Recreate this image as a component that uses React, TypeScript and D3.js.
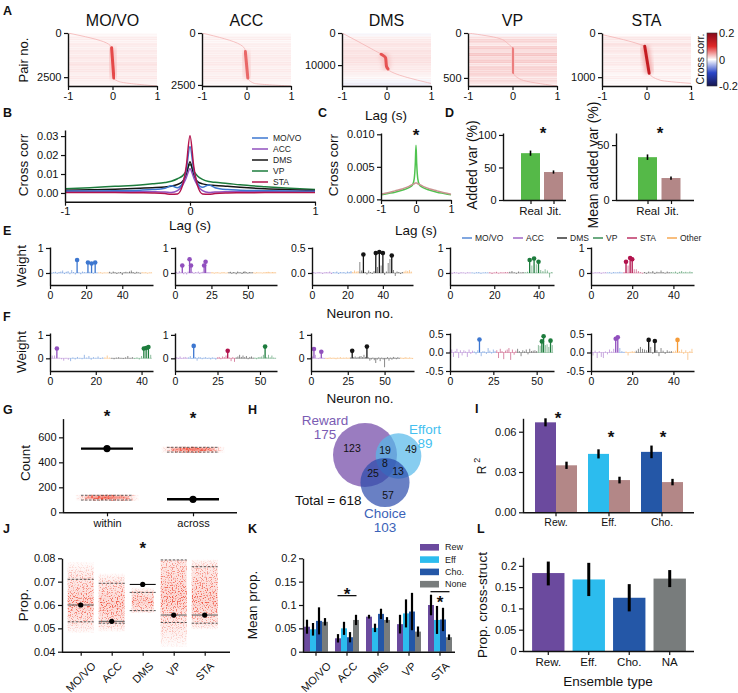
import React, { useEffect, useRef } from "react";
import * as d3 from "d3";

const FONT = "'Liberation Sans', Arial, Helvetica, sans-serif";
const INK = "#111";

// region palette shared by B, E and F
const regionNames = ["MO/VO", "ACC", "DMS", "VP", "STA", "Other"];
const regionColors = ["#3d77d0", "#9150be", "#151515", "#1d7c3d", "#b2134d", "#f59b38"];

// ---------- A: sorted cross-correlograms ----------
const heatRegions = ["MO/VO", "ACC", "DMS", "VP", "STA"];
const heatPairCount = [3000, 2550, 16500, 590, 1200];
const heatYTick = [2500, 2500, 10000, 500, 1000];
const heatTraceLag = [
  [-1, -0.13, -0.02, 0.03, 0.16, 1],
  [-1, -0.14, -0.03, 0.03, 0.17, 1],
  [-1, -0.29, -0.1, -0.02, 0.0, 0.05, 1],
  [-1, -0.3, -0.1, 0.0, 0.02, 0.2, 1],
  [-1, -0.13, -0.04, 0.06, 0.31, 1],
];
const heatTracePair = [
  [0, 570, 840, 2550, 2760, 3000],
  [0, 560, 815, 2170, 2420, 2550],
  [0, 5280, 6770, 7750, 10400, 11550, 15700],
  [0, 60, 120, 175, 440, 520, 590],
  [36, 265, 300, 910, 1070, 1140],
];
const heatStreakPair = [[840, 2550], [890, 2170], [6600, 11200], [175, 440], [300, 910]];
const heatStreakPeak = [0.085, 0.07, 0.08, 0.06, 0.13];
const heatBands = [
  [0.002, 0.006, 0.004, 0.008, 0.005, 0.009, 0.006, 0.01, 0.007, 0.011, 0.008, 0.009, 0.006, 0.008, 0.005, 0.003],
  [0.002, 0.005, 0.003, 0.006, 0.004, 0.007, 0.005, 0.008, 0.006, 0.008, 0.005, 0.007, 0.005, 0.006, 0.004, 0.002],
  [-0.003, 0.005, 0.008, 0.011, 0.008, 0.012, 0.01, 0.013, 0.011, 0.01, 0.008, 0.007, 0.005, 0.002, -0.004, -0.007],
  [-0.003, 0.01, 0.016, 0.008, 0.019, 0.012, 0.022, 0.014, 0.02, 0.01, 0.018, 0.014, 0.017, 0.008, 0.014, 0.005],
  [0.001, 0.009, 0.006, 0.012, 0.007, 0.01, 0.005, 0.009, 0.006, 0.008, 0.004, 0.006, 0.003, 0.005, 0.002, 0.001],
];

// ---------- B: mean cross-correlation per region ----------
const lagB = [-1, -0.8, -0.6, -0.4, -0.3, -0.2, -0.15, -0.1, -0.06, -0.03, 0, 0.03, 0.06, 0.1, 0.15, 0.2, 0.3, 0.4, 0.6, 0.8, 1];
const ccMOVO = [0.001, 0.0011, 0.0012, 0.0015, 0.0018, 0.0025, 0.0038, 0.0028, 0.005, 0.012, 0.0245, 0.012, 0.005, 0.003, 0.0042, 0.0028, 0.0018, 0.0015, 0.0012, 0.001, 0.0009];
const ccACC = [0.0008, 0.0008, 0.0008, 0.0008, 0.0007, 0.0005, 0.0002, 0.0012, 0.004, 0.008, 0.0128, 0.008, 0.004, 0.0012, 0.0002, 0.0005, 0.0007, 0.0008, 0.0008, 0.0008, 0.0008];
const ccDMS = [0.0014, 0.0017, 0.002, 0.0025, 0.0028, 0.0032, 0.0036, 0.0045, 0.006, 0.0095, 0.0165, 0.0095, 0.006, 0.0048, 0.0042, 0.004, 0.0035, 0.003, 0.0022, 0.0017, 0.0013];
const ccVP = [0.0022, 0.0028, 0.0035, 0.0042, 0.0048, 0.0055, 0.0062, 0.0075, 0.009, 0.0115, 0.015, 0.0115, 0.009, 0.0072, 0.006, 0.0056, 0.005, 0.0043, 0.0033, 0.0025, 0.0018];
const ccSTA = [0.0003, 0.0003, 0.0002, 0.0001, 0.0, -0.0003, -0.0007, -0.0005, 0.004, 0.014, 0.0302, 0.014, 0.004, -0.0005, -0.0007, -0.0003, 0.0, 0.0001, 0.0002, 0.0003, 0.0003];
const bSeries = [ccMOVO, ccACC, ccDMS, ccVP, ccSTA];

// ---------- C: real vs jittered ----------
const lagC = [-1, -0.8, -0.6, -0.4, -0.2, -0.1, -0.05, -0.02, 0, 0.02, 0.05, 0.1, 0.2, 0.4, 0.6, 0.8, 1];
const ccReal = [0.0007, 0.0009, 0.0011, 0.0014, 0.0018, 0.0022, 0.0032, 0.0055, 0.0083, 0.0055, 0.0032, 0.0022, 0.0018, 0.0014, 0.0011, 0.0009, 0.0007];
const ccJit = [0.0008, 0.001, 0.0013, 0.0016, 0.002, 0.0023, 0.0024, 0.0025, 0.0025, 0.0025, 0.0024, 0.0023, 0.002, 0.0016, 0.0013, 0.001, 0.0008];

// ---------- D ----------
const dLabels = ["Real", "Jit."];
const addedVar = [72, 43];
const addedVarErr = [4, 2.5];
const meanAddedVar = [39, 20];
const meanAddedVarErr = [2.5, 1.5];

// ---------- E / F: ensemble weights ----------
const e1Segs = [[0, 27], [5, 6], [2, 18], [5, 6]];
const e1W = [0.02, -0.02, 0.03, 0.05, -0.03, 0.04, 0.06, 0.1, -0.04, 0.05, 0.08, -0.05, 0.12, 0.04, -0.06, 0.52, 0.03, -0.05, 0.06, 0.04, 0.02, 0.42, 0.05, 0.38, -0.03, 0.42, 0.02,
  0.02, 0.03, -0.02, 0.02, 0.01, 0.02,
  0.05, -0.02, 0.06, 0.03, -0.04, 0.02, 0.04, -0.08, 0.03, 0.05, 0.02, 0.06, 0.1, 0.04, -0.03, 0.05, 0.02, -0.02,
  0.03, 0.02, 0.03, -0.02, 0.02, 0.03];
const e1Marked = [15, 21, 23, 25];

const e2Segs = [[1, 25], [5, 12], [2, 17], [5, 16]];
const e2W = [0.03, 0.05, -0.03, 0.08, 0.02, 0.3, -0.05, 0.04, -0.06, 0.06, 0.55, 0.3, 0.05, -0.03, 0.04, 0.02, 0.06, -0.04, 0.03, 0.05, 0.3, 0.45, 0.04, 0.02, 0.03,
  0.02, 0.03, -0.02, 0.02, 0.03, 0.01, -0.02, 0.02, 0.03, 0.02, -0.01, 0.02,
  0.03, 0.05, -0.03, 0.04, 0.02, -0.05, 0.06, 0.03, 0.02, -0.04, 0.05, 0.07, 0.03, -0.02, 0.04, 0.02, 0.03,
  0.02, -0.02, 0.03, 0.02, 0.01, 0.02, -0.01, 0.03, 0.02, 0.04, 0.05, 0.03, 0.02, 0.04, 0.03, 0.02];
const e2Marked = [5, 10, 11, 20, 21];

const e3Segs = [[1, 12], [0, 11], [5, 4], [2, 25], [5, 5]];
const e3W = [0.01, 0.02, -0.01, 0.01, 0.02, 0.01, -0.02, 0.01, 0.02, 0.01, 0.03, -0.02,
  0.02, 0.01, 0.03, -0.02, 0.02, 0.01, 0.02, -0.01, 0.03, 0.02, 0.04,
  0.02, 0.05, 0.03, 0.04,
  0.22, 0.05, 0.37, 0.02, -0.03, 0.05, 0.02, -0.02, 0.04, 0.4, 0.12, 0.42, 0.15, 0.4, -0.04, 0.03, 0.2, 0.28, 0.35, 0.06, -0.06, 0.03, 0.02, -0.02, 0.02,
  0.03, 0.05, 0.04, 0.06, 0.03];
const e3Marked = [29, 36, 38, 40, 45];

const e4Segs = [[1, 10], [0, 8], [4, 9], [2, 7], [3, 13]];
const e4W = [0.06, -0.03, 0.04, 0.02, -0.04, 0.03, 0.02, -0.02, 0.03, 0.02,
  0.02, -0.02, 0.03, 0.04, -0.03, 0.02, 0.03, 0.02,
  0.03, -0.04, 0.02, 0.05, -0.02, 0.03, 0.02, 0.04, 0.03,
  0.05, 0.08, 0.03, -0.03, 0.06, 0.02, 0.04,
  0.03, 0.05, 0.52, 0.3, 0.58, 0.35, 0.45, 0.12, 0.08, 0.15, 0.1, -0.18, 0.04];
const e4Marked = [36, 38, 40];

const e5Segs = [[1, 8], [0, 8], [4, 10], [2, 13], [3, 11]];
const e5W = [0.08, -0.02, 0.03, 0.02, 0.04, -0.03, 0.02, 0.03,
  0.02, 0.03, -0.02, 0.04, 0.02, 0.03, 0.05, 0.02,
  0.03, 0.45, 0.3, 0.6, 0.55, 0.15, 0.15, 0.08, 0.03, -0.02,
  0.04, -0.03, 0.06, 0.02, 0.08, -0.04, 0.05, 0.03, 0.1, 0.04, -0.02, 0.06, 0.03,
  0.04, 0.02, 0.06, -0.03, 0.05, 0.08, 0.03, 0.05, 0.02, 0.06, 0.04];
const e5Marked = [17, 19, 20];

const f1Segs = [[1, 9], [0, 15], [5, 3], [2, 10], [3, 8]];
const f1W = [0.02, 0.12, 0.12, 0.42, 0.03, -0.04, -0.1, 0.02, -0.06,
  -0.12, 0.04, -0.05, 0.06, 0.02, -0.04, 0.15, 0.03, 0.1, -0.06, 0.05, 0.02, 0.08, -0.03, 0.04,
  0.04, 0.12, 0.03,
  0.02, -0.04, 0.03, 0.05, 0.02, -0.03, 0.04, 0.1, 0.02, 0.05,
  -0.03, 0.04, -0.05, 0.1, 0.42, 0.44, 0.48, 0.15];
const f1Marked = [3, 41, 42, 43];

const f2Segs = [[1, 8], [0, 17], [4, 11], [2, 11], [3, 13]];
const f2W = [0.02, 0.05, -0.03, 0.08, -0.02, 0.04, 0.06, 0.03,
  0.04, 0.1, -0.03, 0.53, 0.05, -0.1, 0.06, 0.04, -0.04, 0.03, 0.05, -0.02, 0.03, -0.05, 0.04, 0.02, -0.06,
  0.04, 0.06, -0.04, 0.08, 0.05, 0.12, 0.32, 0.03, -0.12, 0.05, -0.15,
  0.04, 0.08, 0.15, 0.06, 0.12, 0.05, 0.1, -0.04, 0.06, 0.08, 0.03,
  0.03, -0.04, 0.05, 0.06, 0.08, 0.15, 0.5, 0.05, 0.15, 0.04, 0.12, 0.03, 0.02];
const f2Marked = [11, 31, 53];

const f3Segs = [[1, 10], [5, 17], [2, 34], [5, 9]];
const f3W = [0.05, 0.08, 0.4, 0.15, 0.02, -0.03, 0.04, 0.28, 0.03, -0.02,
  0.02, -0.03, 0.02, 0.04, -0.02, 0.03, 0.02, -0.04, 0.03, 0.02, 0.05, -0.02, 0.03, 0.02, 0.04, 0.02, 0.03,
  0.04, 0.32, 0.05, 0.08, 0.03, 0.06, 0.08, 0.1, 0.05, 0.15, 0.06, 0.5, 0.04, -0.1, -0.05, 0.03, -0.08, -0.2, -0.06, 0.04, -0.12, 0.03, -0.05, -0.38, -0.04, 0.05, -0.1, 0.03, -0.06, 0.06, 0.03, -0.04, 0.05, 0.02,
  0.04, 0.02, -0.03, 0.05, 0.03, -0.02, 0.04, 0.02, -0.03];
const f3Marked = [2, 7, 28, 38];

const f4Segs = [[1, 14], [0, 13], [4, 12], [2, 12], [3, 9]];
const f4W = [0.05, 0.08, -0.12, 0.04, 0.1, -0.15, 0.06, -0.08, 0.06, 0.03, -0.12, 0.08, -0.04, 0.05,
  0.03, -0.05, 0.06, 0.35, -0.1, 0.04, 0.03, -0.04, 0.12, 0.05, -0.03, 0.08, 0.04,
  0.06, -0.15, 0.1, 0.04, -0.18, 0.05, 0.08, 0.12, -0.2, 0.08, -0.06, 0.05,
  0.1, 0.04, -0.1, 0.06, 0.03, 0.08, -0.05, 0.1, 0.04, 0.05, 0.06, 0.04,
  0.2, 0.18, 0.3, 0.44, 0.2, 0.22, 0.15, 0.32, 0.2];
const f4Marked = [17, 53, 54, 58];

const f5Segs = [[1, 14], [0, 3], [5, 5], [2, 18], [5, 10]];
const f5W = [0.06, -0.08, 0.05, -0.15, 0.04, -0.12, -0.15, 0.03, -0.05, 0.08, 0.03, 0.1, 0.37, 0.41,
  0.12, 0.04, 0.02,
  0.03, -0.08, 0.02, 0.04, 0.03,
  0.05, 0.1, 0.15, 0.1, 0.08, 0.06, 0.34, 0.15, -0.04, 0.31, 0.06, -0.1, 0.12, 0.05, -0.04, 0.06, 0.03, 0.04,
  0.03, 0.05, 0.34, 0.04, 0.08, -0.04, 0.06, -0.2, 0.04, 0.1];
const f5Marked = [12, 13, 28, 31, 42];

// ---------- G ----------
const gCats = ["within", "across"];
const gObserved = [510, 104];
const gShuffleMean = [118, 503];
const gShuffleLo = [98, 482];
const gShuffleHi = [136, 520];

// ---------- H ----------
const vennSets = ["Reward", "Effort", "Choice"];
const vennSizes = [175, 89, 103];
const vennCounts = [123, 49, 57, 19, 25, 13, 8]; // R, E, C, R&E, R&C, E&C, all
const vennTotal = 618;

// ---------- I ----------
const iGroups = ["Rew.", "Eff.", "Cho."];
const r2Real = [0.067, 0.0435, 0.045];
const r2RealErr = [0.003, 0.0034, 0.0047];
const r2Jit = [0.035, 0.024, 0.0225];
const r2JitErr = [0.0027, 0.0025, 0.0024];

// ---------- J ----------
const jRegions = ["MO/VO", "ACC", "DMS", "VP", "STA"];
const jObserved = [0.06, 0.053, 0.0688, 0.0557, 0.0557];
const jShuffleLo = [0.0528, 0.0522, 0.0576, 0.0525, 0.0522];
const jShuffleHi = [0.071, 0.0693, 0.0654, 0.0793, 0.0764];
const jShuffleMed = [0.0605, 0.0605, 0.0615, 0.0635, 0.0615];
const jShuffleMin = [0.048, 0.0485, 0.0565, 0.042, 0.0495];
const jShuffleMax = [0.0785, 0.0735, 0.0675, 0.0795, 0.0795];

// ---------- K ----------
const kTypes = ["Rew", "Eff", "Cho.", "None"];
const kRew = [0.0535, 0.0287, 0.075, 0.059, 0.1];
const kEff = [0.048, 0.05, 0.051, 0.082, 0.068];
const kCho = [0.066, 0.031, 0.081, 0.086, 0.069];
const kNone = [0.064, 0.068, 0.068, 0.043, 0.031];
const kRewErr = [0.015, 0.009, 0.004, 0.02, 0.022];
const kEffErr = [0.0135, 0.014, 0.009, 0.03, 0.03];
const kChoErr = [0.029, 0.011, 0.011, 0.04, 0.025];
const kNoneErr = [0.008, 0.011, 0.006, 0.011, 0.006];

// ---------- L ----------
const lTypes = ["Rew.", "Eff.", "Cho.", "NA"];
const crossStruct = [0.183, 0.168, 0.125, 0.17];
const crossStructLo = [0.154, 0.129, 0.093, 0.15];
const crossStructHi = [0.21, 0.207, 0.157, 0.19];

// palette for ensemble types
const REW = "#6b4a9e", EFF = "#2cbcee", CHO = "#2457a7", NONE = "#787c7c";
const JIT = "#b38787", REAL = "#55b948", CLOUD = "#ef4a36";

const fmt = (spec: string) => (d: any) => d3.format(spec)(d).replace("\u2212", "-");
const plain = (d: any) => String(d);
// blue-white-red diverging map for cross-correlation
const cmap = d3.scaleLinear<string>()
  .domain([-0.2, -0.1, 0, 0.1, 0.2])
  .range(["#16164f", "#2a46c8", "#ffffff", "#e02828", "#870818"])
  .clamp(true);

function text(sel: any, x: number, y: number, s: string, o: any = {}) {
  const t = sel.append("text").attr("x", x).attr("y", y).text(s)
    .attr("font-family", FONT).attr("font-size", o.size ?? 11)
    .attr("fill", o.fill ?? INK).attr("text-anchor", o.anchor ?? "start");
  if (o.weight) t.attr("font-weight", o.weight);
  if (o.baseline) t.attr("dominant-baseline", o.baseline);
  if (o.rotate) t.attr("transform", `rotate(${o.rotate},${x},${y})`);
  return t;
}
const vlabel = (sel: any, x: number, y: number, s: string, size = 13.5) =>
  text(sel, x, y, s, { size, anchor: "middle", baseline: "central", rotate: -90 });
const star = (sel: any, x: number, yc: number) =>
  text(sel, x, yc + 9, "*", { size: 17, anchor: "middle", weight: "bold" });

function styleAxis(a: any, size: number) {
  a.attr("font-family", FONT).attr("font-size", size);
  a.select(".domain").attr("stroke", INK).attr("stroke-width", 1.4);
  a.selectAll(".tick line").attr("stroke", INK).attr("stroke-width", 1.2);
  a.selectAll(".tick text").attr("fill", INK);
}
function yAxis(sel: any, scale: any, x0: number, ticks: any[], format: any, size = 11) {
  const a = sel.append("g").attr("transform", `translate(${x0},0)`)
    .call(d3.axisLeft(scale).tickValues(ticks).tickFormat(format).tickSizeOuter(0).tickSizeInner(4).tickPadding(2.5));
  styleAxis(a, size);
  return a;
}
function xAxis(sel: any, scale: any, y0: number, ticks: any[], format: any, size = 11, extent?: number[], pad = 2.5) {
  const a = sel.append("g").attr("transform", `translate(0,${y0})`)
    .call(d3.axisBottom(scale).tickValues(ticks).tickFormat(format).tickSizeOuter(0).tickSizeInner(4).tickPadding(pad));
  styleAxis(a, size);
  if (extent) a.select(".domain").attr("d", `M${extent[0]},0.5H${extent[1]}`);
  return a;
}
function errBar(sel: any, x: number, y1: number, y2: number, w = 1.6) {
  sel.append("line").attr("x1", x).attr("x2", x).attr("y1", y1).attr("y2", y2)
    .attr("stroke", "#000").attr("stroke-width", w);
}
function slantLabels(sel: any, xs: number[], labels: string[], yTop: number, size = 11) {
  labels.forEach((s, k) => {
    const t = text(sel, 0, 0, s, { size, anchor: "middle", baseline: "central" });
    const w = (t.node() as SVGTextElement).getComputedTextLength();
    const half = (w + size * 0.75) / (2 * Math.SQRT2);
    t.attr("transform", `translate(${xs[k]},${yTop + half}) rotate(-45)`);
  });
}

// speckled scatter cloud: gradient-filled rect broken into dots by noise
function cloud(sel: any, x: number, y: number, w: number, h: number, fill: string, haze: number, filter: string, dots = 1) {
  sel.append("rect").attr("x", x).attr("y", y).attr("width", w).attr("height", h)
    .attr("fill", fill).attr("opacity", haze);
  sel.append("rect").attr("x", x).attr("y", y).attr("width", w).attr("height", h)
    .attr("fill", fill).attr("opacity", dots).attr("filter", `url(#${filter})`);
}

// ---------- panel drawing ----------
const heatLeft = [68, 202, 342, 468, 602];
const HEAT_W = 89, HEAT_TOP = 33, HEAT_BOT = 86;

function drawA(svg: any, defs: any) {
  heatRegions.forEach((name, i) => {
    const x0 = heatLeft[i], x1 = x0 + HEAT_W;
    const x = d3.scaleLinear([-1, 1], [x0, x1]);
    const y = d3.scaleLinear([0, heatPairCount[i]], [HEAT_TOP, HEAT_BOT]);
    defs.append("clipPath").attr("id", `clipA${i}`).append("rect")
      .attr("x", x0).attr("y", HEAT_TOP).attr("width", HEAT_W).attr("height", HEAT_BOT - HEAT_TOP);
    const g = svg.append("g").attr("clip-path", `url(#clipA${i})`);
    const bands = heatBands[i];
    const step = heatPairCount[i] / bands.length;
    g.selectAll("rect.band").data(bands).join("rect").attr("class", "band")
      .attr("x", x0).attr("width", HEAT_W)
      .attr("y", (_: any, k: number) => y(k * step)).attr("height", y(step) - y(0) + 0.4)
      .attr("fill", (d: number) => cmap(d));
    g.append("rect").attr("x", x0).attr("y", HEAT_TOP).attr("width", HEAT_W)
      .attr("height", HEAT_BOT - HEAT_TOP).attr("fill", "url(#rowLines)")
      .attr("opacity", name === "VP" ? 1 : 0.45);
    const pts = heatTraceLag[i].map((l, k) => [l, heatTracePair[i][k]] as [number, number]);
    const line = d3.line<[number, number]>().x(d => x(d[0])).y(d => y(d[1])).curve(d3.curveMonotoneY);
    g.append("path").attr("d", line(pts)).attr("fill", "none")
      .attr("stroke", cmap(0.035)).attr("stroke-width", 0.8);
    const [s0, s1] = heatStreakPair[i];
    const lagAt = d3.scaleLinear(heatTracePair[i], heatTraceLag[i]);
    const streak: [number, number][] = [[lagAt(s0), s0], ...pts.filter(p => p[1] > s0 && p[1] < s1), [lagAt(s1), s1]];
    g.append("path").attr("d", line(streak)).attr("fill", "none")
      .attr("stroke", cmap(heatStreakPeak[i] * 0.4)).attr("stroke-width", 8)
      .attr("filter", "url(#halo)").attr("opacity", 0.7);
    g.append("path").attr("d", line(streak)).attr("fill", "none")
      .attr("stroke", cmap(heatStreakPeak[i])).attr("stroke-width", 3)
      .attr("stroke-linecap", "round").attr("filter", "url(#soft)");
    yAxis(svg, y, x0, [0, heatYTick[i]], plain, 11);
    xAxis(svg, x, HEAT_BOT, [-1, 0, 1], plain, 11);
    text(svg, (x0 + x1) / 2, 26, name, { size: 16, anchor: "middle" });
  });
  vlabel(svg, 23, 60, "Pair no.", 13);
  text(svg, 386, 120, "Lag (s)", { size: 13.5, anchor: "middle" });

  // colour bar
  const cb = defs.append("linearGradient").attr("id", "cbar")
    .attr("x1", 0).attr("y1", 0).attr("x2", 0).attr("y2", 1);
  d3.range(0, 1.001, 0.125).forEach(t =>
    cb.append("stop").attr("offset", t).attr("stop-color", cmap(0.2 - 0.4 * t)));
  svg.append("rect").attr("x", 707).attr("y", HEAT_TOP).attr("width", 10).attr("height", HEAT_BOT - HEAT_TOP)
    .attr("fill", "url(#cbar)").attr("stroke", "#333").attr("stroke-width", 0.6);
  const cy = d3.scaleLinear([-0.2, 0.2], [HEAT_BOT, HEAT_TOP]);
  [0.2, 0, -0.2].forEach(v => text(svg, 719, cy(v), plain(v), { size: 11, baseline: "central" }));
  vlabel(svg, 700, 59, "Cross corr.", 10.5);
}

function drawB(svg: any) {
  const x = d3.scaleLinear([-1, 1], [65, 315]);
  const y = d3.scaleLinear([-0.0046, 0.0332], [201.7, 130]);
  const line = d3.line<number>().x((_, k) => x(lagB[k])).y(d => y(d)).curve(d3.curveMonotoneX);
  [3, 2, 1, 0, 4].forEach(k => {
    svg.append("path").attr("d", line(bSeries[k])).attr("fill", "none")
      .attr("stroke", regionColors[k]).attr("stroke-width", 1.5);
  });
  yAxis(svg, y, 65, [0, 0.01, 0.02, 0.03], fmt(".2f"));
  xAxis(svg, x, 201.7, [-1, 0, 1], plain, 11, undefined, 1.5);
  vlabel(svg, 23, 165, "Cross corr");
  text(svg, 190, 230, "Lag (s)", { size: 13.5, anchor: "middle" });
  regionNames.slice(0, 5).forEach((n, k) => {
    const yy = 138 + k * 11;
    svg.append("line").attr("x1", 252).attr("x2", 268).attr("y1", yy).attr("y2", yy)
      .attr("stroke", regionColors[k]).attr("stroke-width", 1.5);
    text(svg, 273, yy, n, { size: 8.5, baseline: "central", fill: "#222" });
  });
}

function drawC(svg: any) {
  const x = d3.scaleLinear([-1, 1], [381, 451]);
  const y = d3.scaleLinear([-0.0001, 0.0102], [200, 133]);
  const line = d3.line<number>().x((_, k) => x(lagC[k])).y(d => y(d)).curve(d3.curveMonotoneX);
  svg.append("path").attr("d", line(ccReal)).attr("fill", "none").attr("stroke", "#4fc34f").attr("stroke-width", 1.5);
  svg.append("path").attr("d", line(ccJit)).attr("fill", "none").attr("stroke", "#c99391").attr("stroke-width", 1.5);
  yAxis(svg, y, 381, [0, 0.005, 0.01], fmt(".3f"));
  xAxis(svg, x, 200, [-1, 0, 1], plain, 11, undefined, 1.5);
  vlabel(svg, 333, 165, "Cross corr");
  text(svg, 416, 235, "Lag (s)", { size: 13.5, anchor: "middle" });
  star(svg, 416, 132);
}

function drawD(svg: any) {
  const panels = [
    { xs: [530.5, 553.5], ax: 503, end: 566, dom: 103, vals: addedVar, errs: addedVarErr, ticks: [0, 50, 100], title: "Added var (%)", tx: 472, star: 543 },
    { xs: [647.5, 671], ax: 616, end: 694, dom: 61, vals: meanAddedVar, errs: meanAddedVarErr, ticks: [0, 50], title: "Mean added var (%)", tx: 593, star: 660 },
  ];
  panels.forEach(p => {
    const x = d3.scalePoint(dLabels, p.xs);
    const y = d3.scaleLinear([0, p.dom], [200, 133]);
    dLabels.forEach((l, k) => {
      const cx = x(l) as number;
      svg.append("rect").attr("x", cx - 9.5).attr("width", 19).attr("y", y(p.vals[k]))
        .attr("height", y(0) - y(p.vals[k])).attr("fill", k === 0 ? REAL : JIT);
      errBar(svg, cx, y(p.vals[k] - p.errs[k]), y(p.vals[k] + p.errs[k]), 1.6);
    });
    yAxis(svg, y, p.ax, p.ticks, plain);
    xAxis(svg, x, 200, dLabels, plain, 11.5, [p.ax, p.end]);
    vlabel(svg, p.tx, 165, p.title, 14);
    star(svg, p.star, 130);
  });
}

const eLeft = [50, 175, 312, 450, 591], eRight = [153, 277, 413, 554, 694];
const fLeft = [50, 175, 311, 450, 591], fRight = [153, 277, 414, 554, 694];

function stemPanel(svg: any, w: number[], segs: number[][], marked: number[], x0: number, x1: number,
  xMax: number, xTicks: number[], yTop: number, yBot: number, yDom: number[], yTicks: number[], yFmt: any) {
  const x = d3.scaleLinear([0, xMax], [x0, x1]);
  const y = d3.scaleLinear(yDom, [yBot, yTop]);
  const reg = segs.flatMap(([r, c]) => d3.range(c).map(() => r));
  const gb = svg.append("g");
  gb.selectAll("line").data(w).join("line")
    .attr("x1", (_: any, i: number) => x(i - 0.5)).attr("x2", (_: any, i: number) => x(i + 0.5))
    .attr("y1", y(0)).attr("y2", y(0))
    .attr("stroke", (_: any, i: number) => regionColors[reg[i]]).attr("stroke-width", 0.8).attr("opacity", 0.4);
  const gs = svg.append("g");
  gs.selectAll("line").data(w).join("line")
    .attr("x1", (_: any, i: number) => x(i)).attr("x2", (_: any, i: number) => x(i))
    .attr("y1", y(0)).attr("y2", (d: number) => y(d))
    .attr("stroke", (_: any, i: number) => regionColors[reg[i]])
    .attr("stroke-width", (_: any, i: number) => (marked.includes(i) ? 1.3 : 1))
    .attr("opacity", (_: any, i: number) => (marked.includes(i) ? 1 : 0.5));
  svg.append("g").selectAll("circle").data(marked).join("circle")
    .attr("cx", (i: number) => x(i)).attr("cy", (i: number) => y(w[i])).attr("r", 2.3)
    .attr("fill", (i: number) => regionColors[reg[i]]);
  yAxis(svg, y, x0, yTicks, yFmt, 10.5);
  xAxis(svg, x, yBot, xTicks, plain, 10.5);
}

function drawEF(svg: any) {
  const eW = [e1W, e2W, e3W, e4W, e5W], eS = [e1Segs, e2Segs, e3Segs, e4Segs, e5Segs];
  const eM = [e1Marked, e2Marked, e3Marked, e4Marked, e5Marked];
  const eMax = [57, 70, 57, 47, 50];
  const eTicks = [[0, 20, 40], [0, 25, 50], [0, 20, 40], [0, 20, 40], [0, 20, 40]];
  eW.forEach((w, k) => {
    const half = k === 2;
    stemPanel(svg, w, eS[k], eM[k], eLeft[k], eRight[k], eMax[k], eTicks[k], 247, 285,
      half ? [-0.24, 0.52] : [-0.48, 1.04], half ? [0, 0.5] : [0, 1], half ? fmt(".1f") : plain);
  });
  const fW = [f1W, f2W, f3W, f4W, f5W], fS = [f1Segs, f2Segs, f3Segs, f4Segs, f5Segs];
  const fM = [f1Marked, f2Marked, f3Marked, f4Marked, f5Marked];
  const fMax = [45, 60, 70, 60, 50];
  const fTicks = [[0, 20, 40], [0, 25, 50], [0, 25, 50], [0, 25, 50], [0, 20, 40]];
  fW.forEach((w, k) => {
    const half = k >= 3;
    stemPanel(svg, w, fS[k], fM[k], fLeft[k], fRight[k], fMax[k], fTicks[k], 333, 371,
      half ? [-0.5, 0.527] : [-0.54, 1.08], half ? [-0.5, 0, 0.5] : [0, 1], half ? fmt(".1f") : plain);
  });
  vlabel(svg, 21, 266, "Weight");
  vlabel(svg, 21, 352, "Weight");
  text(svg, 360, 318, "Neuron no.", { size: 13.5, anchor: "middle" });
  text(svg, 360, 403, "Neuron no.", { size: 13.5, anchor: "middle" });
  // legend
  const legX = [462, 513, 557, 593, 627, 667];
  regionNames.forEach((n, k) => {
    svg.append("line").attr("x1", legX[k]).attr("x2", legX[k] + 10).attr("y1", 238).attr("y2", 238)
      .attr("stroke", regionColors[k]).attr("stroke-width", 1.3);
    text(svg, legX[k] + 13, 238, n, { size: 8.5, baseline: "central", fill: "#222" });
  });
}

function drawG(svg: any, defs: any) {
  const x = d3.scalePoint(gCats, [107, 193]);
  const y = d3.scaleLinear([0, 750], [512.3, 418.6]);
  const starY = [413, 415];
  gCats.forEach((c, k) => {
    const cx = x(c) as number;
    const id = `cloudG${k}`;
    const lg = defs.append("linearGradient").attr("id", id).attr("gradientUnits", "userSpaceOnUse")
      .attr("x1", cx - 32).attr("x2", cx + 32).attr("y1", 0).attr("y2", 0);
    [[0, 0], [0.2, 0.55], [0.5, 1], [0.8, 0.55], [1, 0]].forEach(([o, a]) =>
      lg.append("stop").attr("offset", o).attr("stop-color", CLOUD).attr("stop-opacity", a));
    const top = y(gShuffleHi[k] + 4), bot = y(gShuffleLo[k] - 4);
    cloud(svg, cx - 32, top, 64, bot - top, `url(#${id})`, 0.3, "speck");
    const ct = y(gShuffleMean[k] + 10), cb = y(gShuffleMean[k] - 10);
    svg.append("rect").attr("x", cx - 22).attr("width", 44).attr("y", ct).attr("height", cb - ct)
      .attr("fill", `url(#${id})`).attr("opacity", 0.6);
    [gShuffleLo[k], gShuffleHi[k]].forEach(v =>
      svg.append("line").attr("x1", cx - 26).attr("x2", cx + 26).attr("y1", y(v)).attr("y2", y(v))
        .attr("stroke", "#555").attr("stroke-width", 0.9).attr("stroke-dasharray", "2.5,1.5"));
    svg.append("line").attr("x1", cx - 26).attr("x2", cx + 26).attr("y1", y(gObserved[k])).attr("y2", y(gObserved[k]))
      .attr("stroke", "#000").attr("stroke-width", 2.4);
    svg.append("circle").attr("cx", cx).attr("cy", y(gObserved[k])).attr("r", 3.6).attr("fill", "#000");
    star(svg, cx, starY[k]);
  });
  yAxis(svg, y, 63, [0, 200, 400, 600], plain);
  xAxis(svg, x, 512.3, gCats, plain, 11, [63, 237]);
  vlabel(svg, 25, 463, "Count");
}

function drawH(svg: any) {
  const r = d3.scaleSqrt([0, 175], [0, 32]);
  const centers = [[365, 455], [398.5, 456], [385, 482.5]];
  const fills = ["#6f44a5", "#54b8ea", "#2a4aab"];
  const inks = ["#7a5cb3", "#45bff0", "#3a62b8"];
  vennSets.forEach((s, k) => {
    svg.append("circle").attr("cx", centers[k][0]).attr("cy", centers[k][1]).attr("r", r(vennSizes[k]))
      .attr("fill", fills[k]).attr("opacity", 0.7);
  });
  const countPos = [[352, 448], [411, 449], [388, 495], [385, 450], [373, 473], [398, 471], [385, 463]];
  vennCounts.forEach((n, k) => text(svg, countPos[k][0], countPos[k][1], String(n),
    { size: 10.5, anchor: "middle", baseline: "central" }));
  const namePos = [[325, 425], [425, 434], [385, 518]];
  vennSets.forEach((s, k) => {
    text(svg, namePos[k][0], namePos[k][1], s, { size: 13.5, anchor: "middle", fill: inks[k] });
    text(svg, namePos[k][0], namePos[k][1] + 14, String(vennSizes[k]), { size: 13.5, anchor: "middle", fill: inks[k] });
  });
  text(svg, 295, 505, `Total = ${vennTotal}`, { size: 13.5 });
}

function drawI(svg: any) {
  const x = d3.scaleBand(iGroups, [529.5, 688.5]);
  const y = d3.scaleLinear([0, 0.07], [512.3, 418.3]);
  const colors = [REW, EFF, CHO];
  iGroups.forEach((gname, k) => {
    const cx = (x(gname) as number) + x.bandwidth() / 2;
    svg.append("rect").attr("x", cx - 21).attr("width", 21).attr("y", y(r2Real[k]))
      .attr("height", y(0) - y(r2Real[k])).attr("fill", colors[k]);
    svg.append("rect").attr("x", cx).attr("width", 21).attr("y", y(r2Jit[k]))
      .attr("height", y(0) - y(r2Jit[k])).attr("fill", JIT);
    errBar(svg, cx - 10.5, y(r2Real[k] - r2RealErr[k]), y(r2Real[k] + r2RealErr[k]), 2.4);
    errBar(svg, cx + 10.5, y(r2Jit[k] - r2JitErr[k]), y(r2Jit[k] + r2JitErr[k]), 2.4);
  });
  yAxis(svg, y, 523, [0, 0.03, 0.06], fmt(".2f"));
  xAxis(svg, x, 512.3, iGroups, plain, 10.5, [523, 694]);
  star(svg, 558, 415);
  star(svg, 611, 434);
  star(svg, 663, 434);
  const t = text(svg, 482, 466, "R", { size: 12, anchor: "middle", baseline: "central", rotate: -90 });
  t.append("tspan").attr("dx", 3).attr("dy", -5).attr("font-size", 9).text("2");
}

function drawJ(svg: any, defs: any) {
  const x = d3.scalePoint(jRegions, [80.7, 204.7]);
  const y = d3.scaleLinear([0.04, 0.08], [651.7, 558.3]);
  jRegions.forEach((reg, k) => {
    const cx = x(reg) as number;
    const id = `cloudJ${k}`;
    const yT = y(jShuffleMax[k]), yB = y(jShuffleMin[k]);
    const off = (v: number) => (y(v) - yT) / (yB - yT);
    const lg = defs.append("linearGradient").attr("id", id).attr("x1", 0).attr("x2", 0).attr("y1", 0).attr("y2", 1);
    [[0, 0.05], [off(jShuffleHi[k]), 0.5], [off(jShuffleMed[k]), 1], [off(jShuffleLo[k]), 0.5], [1, 0.05]].forEach(([o, a]) =>
      lg.append("stop").attr("offset", o).attr("stop-color", CLOUD).attr("stop-opacity", a));
    const hw = reg === "DMS" ? 11 : 13;
    cloud(svg, cx - hw, yT, hw * 2, yB - yT, `url(#${id})`, 0.22, "speckFine", 0.85);
    [jShuffleLo[k], jShuffleHi[k]].forEach(v =>
      svg.append("line").attr("x1", cx - 13).attr("x2", cx + 13).attr("y1", y(v)).attr("y2", y(v))
        .attr("stroke", "#444").attr("stroke-width", 0.9).attr("stroke-dasharray", "2.5,1.5"));
    svg.append("line").attr("x1", cx - 13).attr("x2", cx + 13).attr("y1", y(jObserved[k])).attr("y2", y(jObserved[k]))
      .attr("stroke", reg === "DMS" ? "#111" : "#666").attr("stroke-width", 1.1);
    svg.append("circle").attr("cx", cx).attr("cy", y(jObserved[k])).attr("r", 2.6).attr("fill", "#000");
  });
  yAxis(svg, y, 62, [0.04, 0.05, 0.06, 0.07, 0.08], fmt(".2f"));
  xAxis(svg, x, 651.7, jRegions, () => "", 11, [62, 230]);
  slantLabels(svg, jRegions.map(r => x(r) as number), jRegions, 661);
  vlabel(svg, 23, 605, "Prop.");
  star(svg, x("DMS") as number, 545);
}

function drawK(svg: any) {
  const x = d3.scaleBand(jRegions, [300.5, 455.5]);
  const sub = d3.scaleBand(kTypes, [-12, 12]);
  const y = d3.scaleLinear([0, 0.2], [651.7, 558.3]);
  const vals = [kRew, kEff, kCho, kNone], errs = [kRewErr, kEffErr, kChoErr, kNoneErr];
  const colors = [REW, EFF, CHO, NONE];
  jRegions.forEach((reg, i) => {
    const cx = (x(reg) as number) + x.bandwidth() / 2;
    kTypes.forEach((t, j) => {
      const bx = cx + (sub(t) as number);
      const v = vals[j][i];
      svg.append("rect").attr("x", bx).attr("width", sub.bandwidth()).attr("y", y(v))
        .attr("height", y(0) - y(v)).attr("fill", colors[j]);
      errBar(svg, bx + sub.bandwidth() / 2, y(v - errs[j][i]), y(v + errs[j][i]), 2.2);
    });
  });
  yAxis(svg, y, 303, [0, 0.05, 0.1, 0.15, 0.2], plain);
  xAxis(svg, x, 651.7, jRegions, () => "", 11, [303, 455]);
  slantLabels(svg, jRegions.map(r => (x(r) as number) + x.bandwidth() / 2), jRegions, 661);
  vlabel(svg, 252, 605, "Mean prop.");
  const acc = (x("ACC") as number) + x.bandwidth() / 2;
  const sta = (x("STA") as number) + x.bandwidth() / 2;
  svg.append("line").attr("x1", acc - 9.5).attr("x2", acc + 9.5).attr("y1", y(0.12)).attr("y2", y(0.12)).attr("stroke", "#000").attr("stroke-width", 1.2);
  star(svg, acc, y(0.12) - 5);
  svg.append("line").attr("x1", sta - 9.5).attr("x2", sta + 9.5).attr("y1", y(0.1285)).attr("y2", y(0.1285)).attr("stroke", "#000").attr("stroke-width", 1.2);
  star(svg, sta, y(0.1285) + 7);
  kTypes.forEach((t, j) => {
    const yy = 547.3 + j * 12.3;
    svg.append("rect").attr("x", 420).attr("y", yy - 3.3).attr("width", 19).attr("height", 6.6).attr("fill", colors[j]);
    text(svg, 445, yy, t, { size: 9, baseline: "central", fill: "#222" });
  });
}

function drawL(svg: any) {
  const x = d3.scaleBand(lTypes, [524, 694]).padding(0.2);
  const y = d3.scaleLinear([0, 0.22], [651, 557.3]);
  const colors = [REW, EFF, CHO, NONE];
  lTypes.forEach((t, k) => {
    const bx = x(t) as number;
    svg.append("rect").attr("x", bx).attr("width", x.bandwidth()).attr("y", y(crossStruct[k]))
      .attr("height", y(0) - y(crossStruct[k])).attr("fill", colors[k]);
    errBar(svg, bx + x.bandwidth() / 2, y(crossStructLo[k]), y(crossStructHi[k]), 3);
  });
  yAxis(svg, y, 523, [0, 0.05, 0.1, 0.15, 0.2], plain);
  xAxis(svg, x, 651, lTypes, plain, 11.5, [523, 694]);
  vlabel(svg, 482, 605, "Prop. cross-struct");
  text(svg, 608, 686, "Ensemble type", { size: 13.5, anchor: "middle" });
}

function speckFilter(defs: any, id: string, freq: number, gain: number, bias: number) {
  const sp = defs.append("filter").attr("id", id).attr("x", 0).attr("y", 0).attr("width", 1).attr("height", 1);
  sp.append("feTurbulence").attr("type", "fractalNoise").attr("baseFrequency", freq)
    .attr("numOctaves", 1).attr("seed", 4).attr("result", "n");
  sp.append("feColorMatrix").attr("in", "n").attr("type", "matrix")
    .attr("values", `0 0 0 0 0  0 0 0 0 0  0 0 0 0 0  0 0 0 ${gain} ${bias}`).attr("result", "m");
  sp.append("feComposite").attr("in", "SourceGraphic").attr("in2", "m").attr("operator", "in");
}

function drawFigure(node: SVGSVGElement) {
  const svg = d3.select(node);
  svg.selectAll("*").remove();
  svg.append("rect").attr("width", 738).attr("height", 693).attr("fill", "#fff");
  const defs = svg.append("defs");
  defs.append("filter").attr("id", "soft").attr("x", "-50%").attr("width", "200%")
    .append("feGaussianBlur").attr("stdDeviation", 0.7);
  defs.append("filter").attr("id", "halo").attr("x", "-100%").attr("width", "300%")
    .append("feGaussianBlur").attr("stdDeviation", 2.2);
  speckFilter(defs, "speck", 0.6, 9, -4.6);
  speckFilter(defs, "speckFine", 0.8, 7, -3.6);
  const rows = defs.append("pattern").attr("id", "rowLines").attr("patternUnits", "userSpaceOnUse")
    .attr("width", 4).attr("height", 2.3);
  rows.append("rect").attr("width", 4).attr("height", 0.6).attr("fill", "#ec9a9a").attr("opacity", 0.3);

  const letters: [string, number, number][] = [
    ["A", 3, 15], ["B", 3, 117], ["C", 318, 117], ["D", 445, 117], ["E", 3, 235], ["F", 3, 321],
    ["G", 3, 414], ["H", 248, 414], ["I", 475, 413], ["J", 3, 533], ["K", 248, 533], ["L", 477, 533],
  ];
  letters.forEach(([s, x, y]) => text(svg, x, y, s, { size: 12.5, weight: "bold" }));

  drawA(svg, defs);
  drawB(svg);
  drawC(svg);
  drawD(svg);
  drawEF(svg);
  drawG(svg, defs);
  drawH(svg);
  drawI(svg);
  drawJ(svg, defs);
  drawK(svg);
  drawL(svg);
}

export default function App() {
  const ref = useRef<SVGSVGElement | null>(null);
  useEffect(() => {
    if (ref.current) drawFigure(ref.current);
  }, []);
  return (
    <svg
      ref={ref}
      width={738}
      height={693}
      viewBox="0 0 738 693"
      style={{ position: "absolute", left: 0, top: 0, background: "#fff" }}
    />
  );
}
